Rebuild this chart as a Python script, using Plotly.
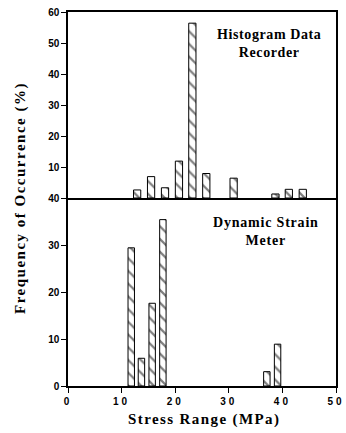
import plotly.graph_objects as go

# Histogram Data Recorder (top panel)
hdr_stress = [12.9, 15.5, 18.1, 20.7, 23.2, 25.8, 30.9, 38.7, 41.2, 43.8]
hdr_freq = [2.6, 6.9, 3.3, 11.9, 56.4, 7.9, 6.4, 1.3, 2.8, 2.8]

# Dynamic Strain Meter (bottom panel)
dsm_stress = [11.8, 13.7, 15.7, 17.7, 37.1, 39.1]
dsm_freq = [29.4, 5.9, 17.6, 35.4, 3.05, 8.9]

x_ticks = [0, 10, 20, 30, 40, 50]
top_y_ticks = [10, 20, 30, 40, 50, 60]
bot_y_ticks = [0, 10, 20, 30, 40]

x_ticktext = ['<span style="letter-spacing:3px">%d</span>' % v for v in x_ticks]

pattern = dict(shape="\\", fgcolor="black", bgcolor="white", size=9, solidity=0.25)

fig = go.Figure()
fig.add_trace(go.Bar(x=hdr_stress, y=hdr_freq, width=1.35, xaxis="x2", yaxis="y2",
                     marker=dict(color="white", line=dict(color="black", width=1), pattern=pattern),
                     showlegend=False))
fig.add_trace(go.Bar(x=dsm_stress, y=dsm_freq, width=1.2, xaxis="x", yaxis="y",
                     marker=dict(color="white", line=dict(color="black", width=1), pattern=pattern),
                     showlegend=False))

tickfont = dict(family="Liberation Sans", size=10, color="black", weight="bold")
serif = "Liberation Serif"
split = 188 / 374

fig.update_layout(
    width=346, height=433,
    margin=dict(l=68, r=10, t=12, b=47, autoexpand=False),
    plot_bgcolor="white", paper_bgcolor="white",
    xaxis=dict(domain=[0, 1], range=[0, 50], tickvals=x_ticks, ticktext=x_ticktext,
               ticks="outside", ticklen=5, automargin=False,
               tickwidth=1.2, tickcolor="black", showline=True, linecolor="black", linewidth=1.5,
               showgrid=False, zeroline=False, tickfont=tickfont, anchor="y"),
    xaxis2=dict(domain=[0, 1], range=[0, 50], matches="x", showticklabels=False, ticks="",
                showline=True, linecolor="black", linewidth=1.5, mirror=True, automargin=False,
                showgrid=False, zeroline=False, anchor="y2"),
    yaxis=dict(domain=[0, split], range=[0, 40], tickvals=bot_y_ticks, ticks="outside", ticklen=5,
               tickwidth=1.2, tickcolor="black", showline=True, linecolor="black", linewidth=1.5,
               mirror=True, showgrid=False, zeroline=False, tickfont=tickfont, anchor="x",
               automargin=False),
    yaxis2=dict(domain=[split, 1], range=[0, 60], tickvals=top_y_ticks, ticks="outside", ticklen=5,
                tickwidth=1.2, tickcolor="black", showline=True, linecolor="black", linewidth=1.5,
                mirror=True, showgrid=False, zeroline=False, tickfont=tickfont, anchor="x2",
                automargin=False),
    annotations=[
        dict(text='<span style="letter-spacing:0.6px">Histogram Data<br>Recorder</span>',
             x=37.5, y=50, xref="x2", yref="y2",
             showarrow=False, font=dict(family=serif, size=14, color="black", weight="bold")),
        dict(text='<span style="letter-spacing:0.8px">Dynamic Strain<br>Meter</span>',
             x=37.0, y=32.8, xref="x", yref="y",
             showarrow=False, font=dict(family=serif, size=14, color="black", weight="bold")),
        dict(text='<span style="letter-spacing:1.5px">Frequency of Occurrence (%)</span>',
             x=(20 - 68) / 268, y=(386 - 198) / 374, xref="paper", yref="paper",
             showarrow=False, textangle=-90, xanchor="center", yanchor="middle",
             font=dict(family=serif, size=15, color="black", weight="bold")),
        dict(text='<span style="letter-spacing:1.4px">Stress Range (MPa)</span>',
             x=(204 - 68) / 268, y=-(420 - 386) / 374, xref="paper", yref="paper",
             showarrow=False, xanchor="center", yanchor="middle",
             font=dict(family=serif, size=15, color="black", weight="bold")),
    ],
)

fig.write_html("out.html", config={"displayModeBar": False},
               post_script="document.body.style.margin='0';document.body.style.overflow='hidden';")
